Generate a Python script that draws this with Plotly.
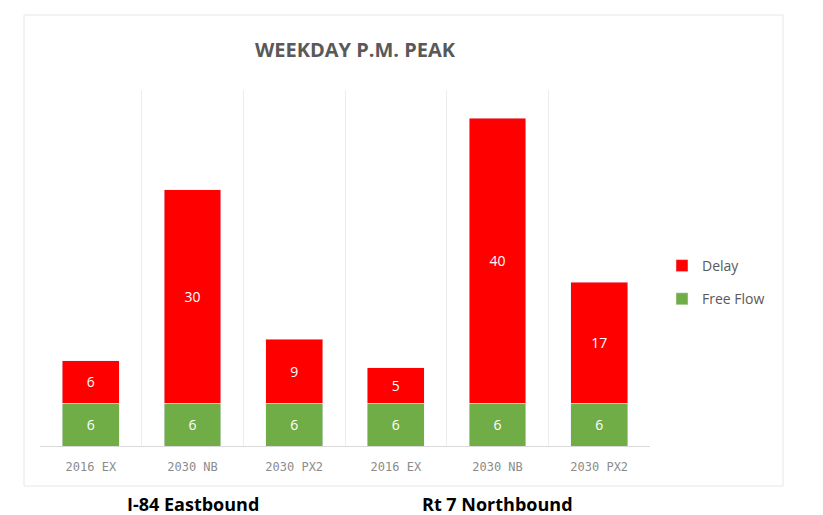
import plotly.graph_objects as go

# page body adds an 8px margin; lay out in window pixels and offset
OFF = 8
W, H = 823 - OFF, 515 - OFF
categories = ["2016 EX", "2030 NB", "2030 PX2", "2016 EX", "2030 NB", "2030 PX2"]
groups = ["I-84 Eastbound", "Rt 7 Northbound"]
group_sizes = [3, 3]
free_flow = [6, 6, 6, 6, 6, 6]
delay = [6, 30, 9, 5, 40, 17]

x = list(range(len(categories)))

fig = go.Figure()
fig.add_trace(go.Bar(x=x, y=free_flow, name="Free Flow", marker_color="#70AD47", legendgroup="ff",
                     legendrank=2,
                     text=free_flow, textposition="inside", insidetextanchor="middle",
                     textfont=dict(color="white", size=14, family="Open Sans")))
fig.add_trace(go.Bar(x=x, y=delay, name="Delay", marker_color="#FF0000", legendgroup="d",
                     legendrank=1,
                     text=delay, textposition="inside", insidetextanchor="middle",
                     textfont=dict(color="white", size=14, family="Open Sans")))

def px(v):
    return (v - OFF) / W

def py(v):
    return 1 - (v - OFF) / H

fig.update_layout(
    width=W, height=H,
    margin=dict(l=0, r=0, t=0, b=0),
    paper_bgcolor="white", plot_bgcolor="white",
    barmode="stack", bargap=0.44,
    font=dict(family="Open Sans", color="#595959"),
    title=dict(text="<b>WEEKDAY P.M. PEAK</b>", x=px(355), y=py(50), xanchor="center", yanchor="middle",
               font=dict(size=20, color="#595959", family="Open Sans")),
    xaxis=dict(domain=[px(40), px(650)], range=[-0.5, len(categories) - 0.5],
               tickvals=x, ticktext=categories, showgrid=False, zeroline=False,
               showline=True, linecolor="#d9d9d9", linewidth=1, ticks="", ticklabelstandoff=10,
               tickfont=dict(size=12, color="#8c8c8c", family="DejaVu Sans Mono"),
               minor=dict(tickvals=[i - 0.5 for i in range(len(categories) + 1)],
                          showgrid=True, gridcolor="#ececec", gridwidth=1, ticks="")),
    yaxis=dict(domain=[py(446), py(90)], range=[0, 50], visible=False, showgrid=False),
    legend=dict(x=px(662), y=py(250), xanchor="left", yanchor="top",
                traceorder="grouped", font=dict(size=14, color="#595959"),
                itemwidth=30, tracegroupgap=12),
    shapes=[dict(type="rect", xref="paper", yref="paper", x0=px(24), x1=px(783), y0=py(486), y1=py(15),
                 line=dict(color="#e6e6e6", width=1))],
)

start = 0
for g, n in zip(groups, group_sizes):
    mid = start + (n - 1) / 2
    fig.add_annotation(x=mid, y=py(504), xref="x", yref="paper", text="<b>" + g + "</b>",
                       showarrow=False, yanchor="middle",
                       font=dict(size=18, color="#000000", family="Open Sans"))
    start += n

fig.write_html("out.html")
